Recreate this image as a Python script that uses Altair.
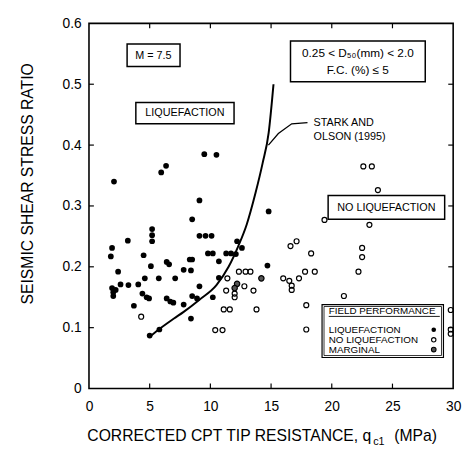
import altair as alt
import pandas as pd

# ---------------- data ----------------
liq_x = [9.5, 10.5, 6.35, 5.95, 2.06, 9.1, 14.8, 8.5, 5.2, 5.2, 5.2, 3.2, 9.1, 9.6, 10.1,
         12.2, 1.9, 1.8, 4.5, 9.8, 10.2, 11.3, 11.7, 12.1, 12.6, 6.4, 6.6, 8.3, 8.5, 10.7,
         5.1, 2.4, 7.8, 8.4, 14.7, 4.6, 5.75, 7.1, 10.7, 2.6, 3.25, 4.06, 1.9, 2.0, 2.2,
         2.0, 9.1, 4.4, 4.75, 4.95, 8.5, 8.9, 10.2, 6.4, 6.7, 6.95, 3.7, 7.8, 8.4, 5.0, 5.8]
liq_y = [0.385, 0.384, 0.366, 0.355, 0.340, 0.309, 0.291, 0.278, 0.262, 0.252, 0.242, 0.243,
         0.251, 0.251, 0.251, 0.242, 0.231, 0.217, 0.219, 0.222, 0.222, 0.222, 0.222, 0.221,
         0.231, 0.208, 0.204, 0.212, 0.212, 0.209, 0.201, 0.192, 0.195, 0.194, 0.202, 0.181,
         0.181, 0.181, 0.182, 0.171, 0.170, 0.171, 0.165, 0.158, 0.162, 0.152, 0.168, 0.156,
         0.150, 0.148, 0.152, 0.148, 0.150, 0.148, 0.143, 0.141, 0.136, 0.138, 0.115, 0.087,
         0.097]

noliq_x = [22.6, 23.3, 23.8, 19.4, 23.1, 16.6, 17.1, 18.3, 22.5, 22.5, 22.2, 16.0, 16.5,
           16.7, 16.7, 17.3, 17.8, 18.6, 21.0, 17.9, 17.9, 29.8, 29.8, 29.8, 12.35, 12.9,
           13.3, 11.4, 12.8, 13.55, 11.3, 12.0, 12.0, 11.1, 11.6, 13.8, 10.4, 11.0, 4.3]
noliq_y = [0.365, 0.365, 0.326, 0.277, 0.269, 0.234, 0.242, 0.222, 0.231, 0.216, 0.192,
           0.181, 0.177, 0.169, 0.162, 0.181, 0.192, 0.192, 0.152, 0.137, 0.097, 0.129,
           0.097, 0.090, 0.192, 0.192, 0.192, 0.181, 0.168, 0.161, 0.161, 0.156, 0.150,
           0.130, 0.130, 0.130, 0.096, 0.096, 0.118]

marg_x = [14.2, 12.2, 12.0]
marg_y = [0.181, 0.172, 0.165]

# Stark and Olson (1995) boundary curve
curve_x = [5.0, 5.75, 7.0, 7.8, 9.1, 10.5, 11.5, 12.3, 13.0, 13.7, 14.3, 14.8, 15.2]
curve_y = [0.085, 0.097, 0.115, 0.126, 0.146, 0.170, 0.200, 0.234, 0.270, 0.320, 0.370, 0.420, 0.500]

# leader line from label to curve
leader_x = [14.78, 15.6, 16.7, 18.0]
leader_y = [0.400, 0.419, 0.435, 0.437]

x_labels = [0, 5, 10, 15, 20, 25, 30]
y_labels = [0, 0.1, 0.2, 0.3, 0.4, 0.5, 0.6]
x_ticks = [5, 10, 15, 20, 25]
y_ticks = [0.1, 0.2, 0.3, 0.4, 0.5]

# annotation boxes (data coordinates)
box_x1 = [3.14, 3.86, 16.6, 19.7]
box_x2 = [7.5, 11.95, 27.7, 29.3]
box_y1 = [0.529, 0.435, 0.504, 0.278]
box_y2 = [0.566, 0.470, 0.571, 0.317]

# legend box
leg_x1 = [19.2]
leg_x2 = [29.2]
leg_y1 = [0.051]
leg_y2 = [0.138]

# centred annotation texts
ctext = ["M = 7.5", "LIQUEFACTION", "0.25 < D\u2085\u2080(mm) < 2.0", "F.C. (%) \u2264 5", "NO LIQUEFACTION"]
ctext_x = [5.3, 7.9, 22.15, 22.15, 24.5]
ctext_y = [0.547, 0.452, 0.551, 0.524, 0.297]
ctext_fs = [11, 11, 12, 12, 11]

# left-aligned annotation texts
ltext = ["STARK AND", "OLSON (1995)", "FIELD PERFORMANCE", "LIQUEFACTION", "NO LIQUEFACTION", "MARGINAL"]
ltext_x = [18.5, 18.5, 19.75, 19.75, 19.75, 19.75]
ltext_y = [0.437, 0.414, 0.1265, 0.0965, 0.080, 0.064]
ltext_fs = [11, 11, 10, 10, 10, 10]

# legend symbols
sym_x = [28.4]
sym_liq_y = [0.0965]
sym_no_y = [0.080]
sym_marg_y = [0.064]

# legend header underline
ul_x = [19.75, 28.9]
ul_y = [0.1185, 0.1185]

FONT = "Liberation Sans"
W, H = 371, 372

xs = alt.Scale(domain=[0, 30], nice=False, zero=False)
ys = alt.Scale(domain=[0, 0.6], nice=False, zero=False)

x_axis = alt.Axis(values=x_labels, ticks=False, tickSize=0, domain=False, grid=False,
                  labelFontSize=14, labelPadding=11, labelFlush=False, title=None, format="d")
y_axis = alt.Axis(values=y_labels, ticks=False, tickSize=0, domain=False, grid=False,
                  labelFontSize=14, labelPadding=8, labelFlush=False, title=None,
                  labelExpr="datum.value == 0 ? '0' : format(datum.value, '.1f')")


def X(field):
    return alt.X(field, type="quantitative", scale=xs, axis=x_axis)


def Y(field):
    return alt.Y(field, type="quantitative", scale=ys, axis=y_axis)


df_liq = pd.DataFrame({"x": liq_x, "y": liq_y})
df_no = pd.DataFrame({"x": noliq_x, "y": noliq_y})
df_marg = pd.DataFrame({"x": marg_x, "y": marg_y})
df_curve = pd.DataFrame({"x": curve_x, "y": curve_y})
df_leader = pd.DataFrame({"x": leader_x, "y": leader_y})
df_box = pd.DataFrame({"x1": box_x1, "x2": box_x2, "y1": box_y1, "y2": box_y2})
df_leg = pd.DataFrame({"x1": leg_x1, "x2": leg_x2, "y1": leg_y1, "y2": leg_y2})
df_ct = pd.DataFrame({"x": ctext_x, "y": ctext_y, "t": ctext, "fs": ctext_fs})
df_lt = pd.DataFrame({"x": ltext_x, "y": ltext_y, "t": ltext, "fs": ltext_fs})
df_ul = pd.DataFrame({"x": ul_x, "y": ul_y})

# inward ticks on all four sides
dfxt = pd.DataFrame({"v": x_ticks})
dfyt = pd.DataFrame({"v": y_ticks})
tick_style = dict(color="black", strokeWidth=1.2)
t_bottom = alt.Chart(dfxt).mark_rule(**tick_style).encode(x=X("v"), y=alt.value(H), y2=alt.value(H - 5))
t_top = alt.Chart(dfxt).mark_rule(**tick_style).encode(x=X("v"), y=alt.value(0), y2=alt.value(5))
t_left = alt.Chart(dfyt).mark_rule(**tick_style).encode(y=Y("v"), x=alt.value(0), x2=alt.value(5))
t_right = alt.Chart(dfyt).mark_rule(**tick_style).encode(y=Y("v"), x=alt.value(W), x2=alt.value(W - 5))

boxes = alt.Chart(df_box).mark_rect(fill="white", stroke="black", strokeWidth=1.5).encode(
    x=X("x1"), x2="x2", y=Y("y1"), y2="y2")

curve = alt.Chart(df_curve).mark_line(color="black", strokeWidth=2, interpolate="monotone").encode(
    x=X("x"), y=Y("y"))
leader = alt.Chart(df_leader).mark_line(color="black", strokeWidth=1.3).encode(x=X("x"), y=Y("y"))

p_liq = alt.Chart(df_liq).mark_point(shape="circle", filled=True, color="black", size=34,
                                     opacity=1).encode(x=X("x"), y=Y("y"))
p_no = alt.Chart(df_no).mark_point(shape="circle", filled=False, color="black", size=26,
                                   strokeWidth=1.2, opacity=1).encode(x=X("x"), y=Y("y"))
p_marg = alt.Chart(df_marg).mark_point(shape="circle", filled=True, fill="#555555", stroke="black",
                                       strokeWidth=1.2, size=30, opacity=1).encode(x=X("x"), y=Y("y"))

legend_box = alt.Chart(df_leg).mark_rect(fill="white", stroke="black", strokeWidth=1.2).encode(
    x=X("x1"), x2="x2", y=Y("y1"), y2="y2")
legend_inner = alt.Chart(df_leg).mark_rect(fill="white", stroke="black", strokeWidth=0.8,
                                           xOffset=2, x2Offset=-2, yOffset=-2, y2Offset=2).encode(
    x=X("x1"), x2="x2", y=Y("y1"), y2="y2")
underline = alt.Chart(df_ul).mark_line(color="black", strokeWidth=0.9).encode(x=X("x"), y=Y("y"))

s_liq = alt.Chart(pd.DataFrame({"x": sym_x, "y": sym_liq_y})).mark_point(
    shape="circle", filled=True, color="black", size=22, opacity=1).encode(x=X("x"), y=Y("y"))
s_no = alt.Chart(pd.DataFrame({"x": sym_x, "y": sym_no_y})).mark_point(
    shape="circle", filled=False, color="black", size=20, strokeWidth=1.1, opacity=1).encode(x=X("x"), y=Y("y"))
s_marg = alt.Chart(pd.DataFrame({"x": sym_x, "y": sym_marg_y})).mark_point(
    shape="circle", filled=True, fill="#555555", stroke="black", strokeWidth=1.1, size=22,
    opacity=1).encode(x=X("x"), y=Y("y"))

ctexts = alt.Chart(df_ct).mark_text(font=FONT, color="black", align="center", baseline="middle").encode(
    x=X("x"), y=Y("y"), text="t:N", size=alt.Size("fs:Q", scale=None, legend=None))
ltexts = alt.Chart(df_lt).mark_text(font=FONT, color="black", align="left", baseline="middle").encode(
    x=X("x"), y=Y("y"), text="t:N", size=alt.Size("fs:Q", scale=None, legend=None))

one = pd.DataFrame({"k": [0]})
ytitle = alt.Chart(one).mark_text(text="SEISMIC SHEAR STRESS RATIO", font=FONT, fontSize=16, angle=270,
                                  align="center", baseline="middle", color="black").encode(
    x=alt.value(-62.5), y=alt.value(163.5))
xtitle_main = alt.Chart(one).mark_text(text="CORRECTED CPT TIP RESISTANCE, q", font=FONT, fontSize=16,
                                       align="right", baseline="alphabetic", color="black").encode(
    x=alt.value(287.5), y=alt.value(425.5))
xtitle_sub = alt.Chart(one).mark_text(text="c1", font=FONT, fontSize=11, align="left",
                                      baseline="alphabetic", color="black").encode(
    x=alt.value(289.5), y=alt.value(429.5))
xtitle_unit = alt.Chart(one).mark_text(text="(MPa)", font=FONT, fontSize=16, align="left",
                                       baseline="alphabetic", color="black").encode(
    x=alt.value(311), y=alt.value(425.5))

chart = alt.layer(
    boxes, legend_box, legend_inner, underline, curve, leader,
    p_no, p_liq, p_marg, s_liq, s_no, s_marg, ctexts, ltexts,
    t_bottom, t_top, t_left, t_right,
    ytitle, xtitle_main, xtitle_sub, xtitle_unit,
).properties(
    width=W, height=H,
    padding={"left": 82.5, "top": 11.5, "right": 9, "bottom": 60},
    autosize=alt.AutoSizeParams(type="none"),
).configure_view(
    stroke="black", strokeWidth=1.6
).configure_axis(
    labelFont=FONT, labelColor="black"
)

chart.save("out.html", embed_options={"renderer": "svg", "actions": False})
